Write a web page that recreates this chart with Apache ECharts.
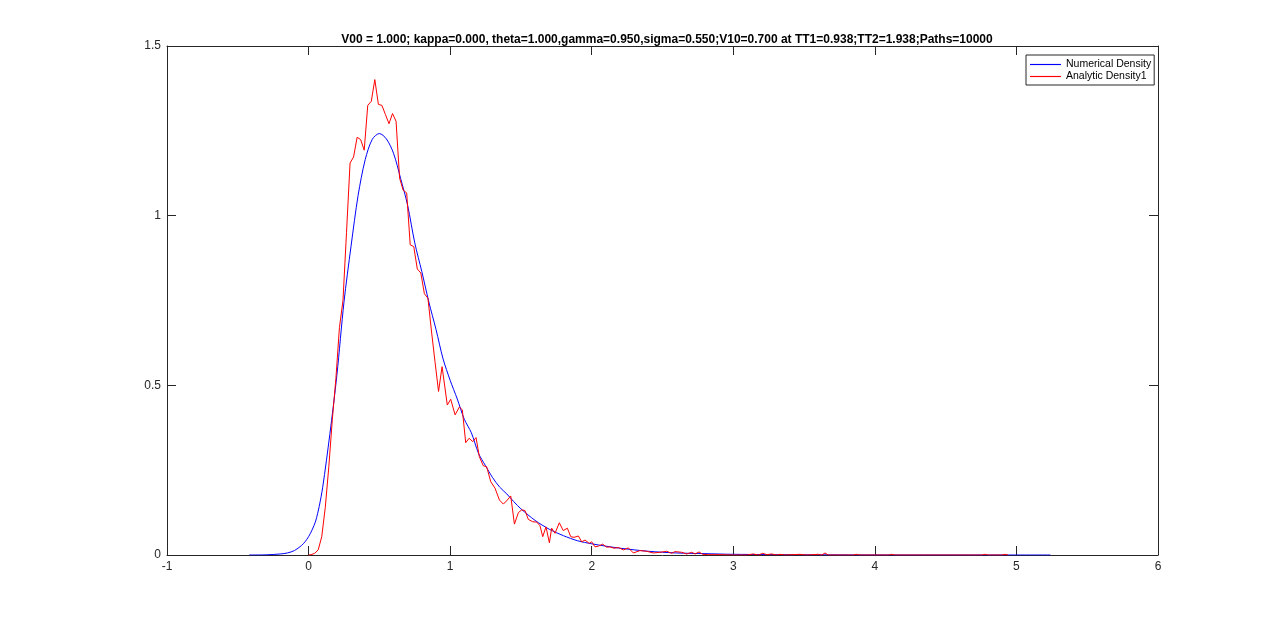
<!DOCTYPE html>
<html>
<head>
<meta charset="utf-8">
<script src="https://cdn.jsdelivr.net/npm/echarts@6/dist/echarts.min.js"></script>
<style>
  html, body { margin: 0; padding: 0; background: #fff; }
  #chart { width: 1280px; height: 624px; }
</style>
</head>
<body>
<div id="chart"></div>
<script>
// axis ticks
const xTicks = [-1, 0, 1, 2, 3, 4, 5, 6];
const yTicks = [0, 0.5, 1, 1.5];

// blue: numerical density
const blueX = [-0.42, -0.3, -0.2, -0.15, -0.1, -0.05, -0.025, 0, 0.025, 0.05, 0.075, 0.1, 0.15, 0.2, 0.25, 0.3, 0.35, 0.4, 0.45,
  0.5, 0.55, 0.6, 0.65, 0.7, 0.75, 0.8, 0.85, 0.9, 0.95, 1.0, 1.05, 1.1, 1.15, 1.2, 1.25, 1.3, 1.35,
  1.4, 1.45, 1.5, 1.6, 1.7, 1.8, 1.9, 2.0, 2.1, 2.2, 2.4, 2.6, 2.8, 3.0, 3.5, 4.0, 5.24];
const blueY = [0, 0.0005, 0.003, 0.006, 0.013, 0.028, 0.039, 0.054, 0.074, 0.1, 0.143, 0.2, 0.355, 0.53, 0.745, 0.91, 1.06, 1.165, 1.225,
  1.242, 1.226, 1.184, 1.11, 1.03, 0.92, 0.835, 0.745, 0.665, 0.578, 0.515, 0.46, 0.4, 0.36, 0.3, 0.263, 0.228, 0.2,
  0.18, 0.157, 0.136, 0.102, 0.076, 0.057, 0.042, 0.033, 0.026, 0.02, 0.011, 0.006, 0.004, 0.002, 0.0007, 0.0002, 0];

// red: analytic density 1
const redX = [0, 0.018, 0.043, 0.068, 0.093, 0.118, 0.143, 0.168, 0.193, 0.218, 0.243, 0.268, 0.293, 0.318, 0.343,
  0.368, 0.393, 0.418, 0.443, 0.468, 0.493, 0.518, 0.543, 0.568, 0.593, 0.618, 0.643, 0.668, 0.693, 0.718, 0.743,
  0.768, 0.793, 0.818, 0.843, 0.868, 0.893, 0.918, 0.943, 0.98, 1.004, 1.035, 1.065, 1.086, 1.11, 1.134, 1.16,
  1.183, 1.206, 1.234, 1.258, 1.287, 1.317, 1.348, 1.376, 1.404, 1.428, 1.454, 1.482, 1.506, 1.529, 1.552, 1.583,
  1.612, 1.635, 1.654, 1.677, 1.701, 1.717, 1.741, 1.771, 1.799, 1.828, 1.852, 1.875, 1.906, 1.929, 1.953, 1.983,
  2.0, 2.023, 2.047, 2.078, 2.106, 2.129, 2.157, 2.188, 2.224, 2.259, 2.294, 2.341, 2.388, 2.435, 2.482, 2.53,
  2.565, 2.588, 2.636, 2.671, 2.706, 2.73, 2.758, 2.784, 2.823, 2.906, 3.0, 3.095, 3.141, 3.177, 3.208, 3.236,
  3.271, 3.306, 3.33, 3.365, 3.471, 3.518, 3.6, 3.624, 3.648, 3.671, 3.847, 3.871, 3.895, 4.095, 4.119, 4.142,
  4.754, 4.777, 4.801, 4.895, 4.919, 4.942];
const redY = [0, 0.001, 0.005, 0.015, 0.054, 0.14, 0.26, 0.4, 0.52, 0.67, 0.75, 0.95, 1.155, 1.173, 1.231,
  1.224, 1.193, 1.325, 1.337, 1.401, 1.328, 1.325, 1.298, 1.271, 1.301, 1.278, 1.111, 1.075, 1.067, 0.914, 0.909,
  0.843, 0.831, 0.77, 0.757, 0.66, 0.57, 0.482, 0.555, 0.442, 0.459, 0.413, 0.436, 0.428, 0.331, 0.344, 0.334,
  0.346, 0.29, 0.263, 0.26, 0.216, 0.197, 0.162, 0.15, 0.162, 0.174, 0.091, 0.125, 0.133, 0.131, 0.105, 0.098,
  0.097, 0.086, 0.054, 0.083, 0.036, 0.079, 0.064, 0.095, 0.072, 0.079, 0.054, 0.052, 0.056, 0.039, 0.044, 0.034,
  0.039, 0.024, 0.026, 0.032, 0.023, 0.024, 0.02, 0.022, 0.015, 0.021, 0.006, 0.013, 0.011, 0.006, 0.008, 0.011,
  0.005, 0.01, 0.008, 0.003, 0.008, 0.003, 0.009, 0.002, 0.001, 0.001, 0, 0, 0.003, 0, 0.005, 0.001,
  0.003, 0, 0.002, 0, 0.002, 0, 0.002, 0, 0.006, 0, 0, 0.002, 0, 0, 0.002, 0,
  0, 0.002, 0, 0, 0.002, 0];

const titleText = 'V00 = 1.000; kappa=0.000, theta=1.000,gamma=0.950,sigma=0.550;V10=0.700 at TT1=0.938;TT2=1.938;Paths=10000';
const seriesNames = ['Numerical Density', 'Analytic Density1'];

const font = 'Liberation Sans, Arial, Helvetica, sans-serif';
const axisColor = '#262626';

// matlab style box: same axis drawn on both sides, ticks pointing in
function makeAxis(min, max, interval, position, showLabel) {
  return {
    type: 'value',
    position: position,
    min: min,
    max: max,
    interval: interval,
    splitLine: { show: false },
    axisLine: { show: true, onZero: false, lineStyle: { color: axisColor, width: 1 } },
    axisTick: { show: true, inside: true, length: 9, lineStyle: { color: axisColor } },
    axisLabel: {
      show: showLabel,
      color: axisColor,
      fontFamily: font,
      fontSize: 12,
      margin: 6
    }
  };
}

const chart = echarts.init(document.getElementById('chart'));
chart.setOption({
  animation: false,
  backgroundColor: '#fff',
  title: {
    text: titleText,
    left: 662,
    textAlign: 'center',
    top: 29,
    textStyle: { fontFamily: font, fontSize: 12, fontWeight: 'bold', color: '#000' }
  },
  legend: {
    data: seriesNames,
    orient: 'vertical',
    left: 1026,
    top: 55,
    padding: [4, 3, 3, 4],
    itemGap: 1,
    icon: 'path://M0,0 L32,0 L32,1.2 L0,1.2 Z',
    itemWidth: 31,
    itemHeight: 1.2,
    borderColor: axisColor,
    borderWidth: 1,
    borderRadius: 0,
    textStyle: { fontFamily: font, fontSize: 10.5, color: '#000', lineHeight: 11 }
  },
  grid: { left: 167, right: 122, top: 46, bottom: 69, containLabel: false },
  xAxis: [
    makeAxis(xTicks[0], xTicks[xTicks.length - 1], 1, 'bottom', true),
    makeAxis(xTicks[0], xTicks[xTicks.length - 1], 1, 'top', false)
  ],
  yAxis: [
    makeAxis(yTicks[0], yTicks[yTicks.length - 1], 0.5, 'left', true),
    makeAxis(yTicks[0], yTicks[yTicks.length - 1], 0.5, 'right', false)
  ],
  series: [
    {
      name: seriesNames[0],
      type: 'line',
      smooth: 0.3,
      symbol: 'none',
      lineStyle: { color: '#0000ff', width: 1 },
      itemStyle: { color: '#0000ff' },
      data: blueX.map((x, i) => [x, blueY[i]])
    },
    {
      name: seriesNames[1],
      type: 'line',
      symbol: 'none',
      lineStyle: { color: '#ff0000', width: 1 },
      itemStyle: { color: '#ff0000' },
      data: redX.map((x, i) => [x, redY[i]])
    }
  ]
});
</script>
</body>
</html>
